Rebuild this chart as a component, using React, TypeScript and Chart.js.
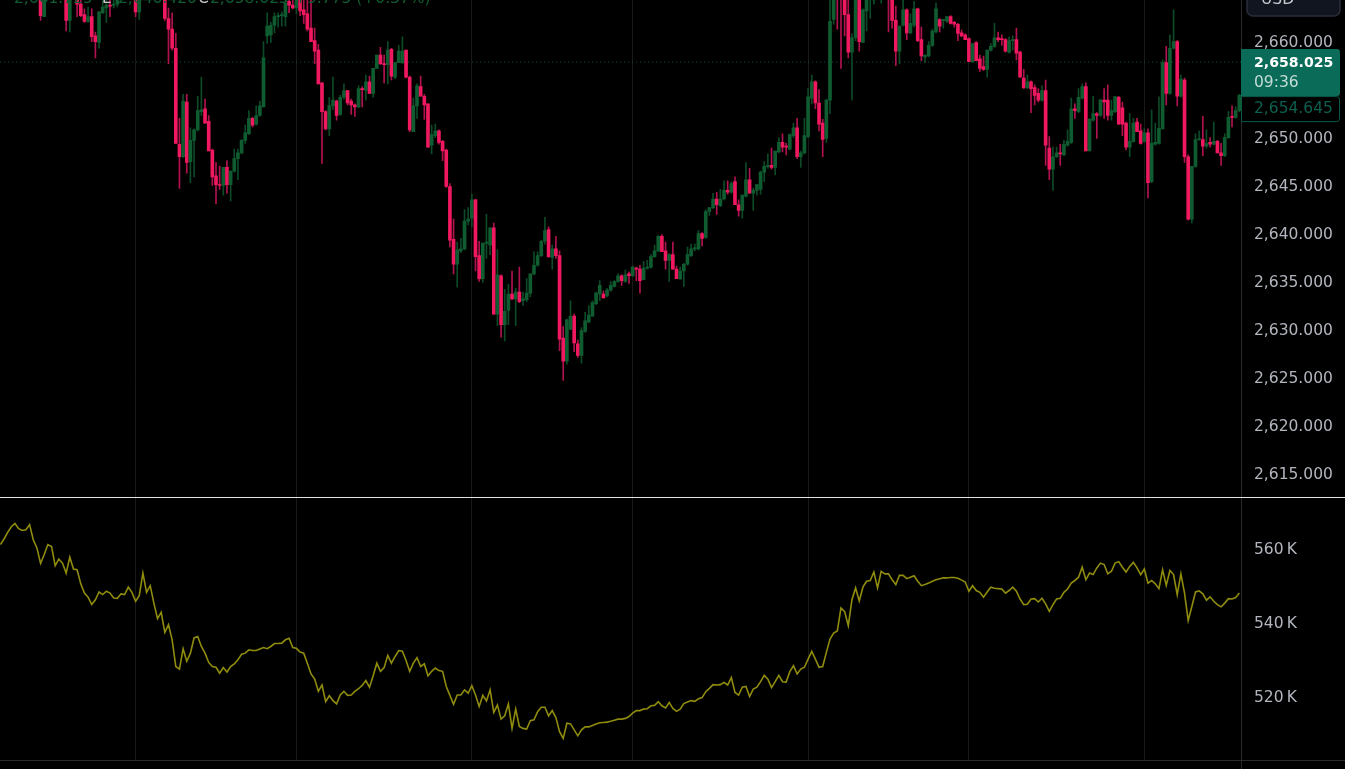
import React, { useEffect, useRef } from 'react';
import { Chart, registerables } from 'chart.js';

Chart.register(...registerables);

const opens = [
  2667.5,2666.4,2667.2,2668.1,2667.4,2666.2,2667,2667.9,2667.1,2666.3,
  2667.2,2665.2,2662.6,2665.2,2666.7,2667.4,2666,2666.8,2665,2662.2,
  2665,2665,2663.9,2662.8,2662.1,2662.6,2660.6,2659.9,2663,2663.5,
  2663.8,2663.8,2663.9,2665,2665.8,2666.4,2665.6,2665,2663.1,2665,
  2666.1,2666.9,2666.4,2667,2666.3,2665.5,2662.4,2661.3,2659.3,2649.3,
  2648,2653.7,2647.5,2649.7,2650.8,2652.7,2653,2651.7,2648.7,2646,
  2645.1,2645,2646.9,2645.1,2646.5,2647.8,2648.4,2649.7,2650.4,2652,
  2651.4,2652.3,2653.2,2660.6,2660.7,2661.7,2662.6,2662.7,2662.6,2664.2,
  2663.8,2663.5,2665,2663.3,2662.9,2661.4,2660.1,2659.1,2655.7,2652.7,
  2650.9,2653.3,2653.8,2652.4,2654.2,2654.9,2653.8,2653.4,2653.2,2655.1,
  2654.9,2655.8,2654.6,2657.2,2658.6,2657.7,2657.6,2659.2,2656.3,2657.8,
  2657.8,2659.1,2656.3,2650.6,2653.3,2655.3,2654.3,2653.5,2649.2,2650.2,
  2650.7,2649.6,2648.7,2644.9,2639.4,2636.8,2638.2,2638.4,2641.3,2641.6,
  2643.5,2637.7,2635.3,2639,2638.8,2640.6,2631.6,2635.6,2630.5,2632,
  2633.7,2633.2,2633.9,2633,2633.1,2633.8,2635.8,2636.7,2637.7,2639.2,
  2640.4,2637.5,2638.4,2637.7,2629.1,2626.7,2630,2631.4,2628.5,2627.3,
  2629.8,2630.8,2631.4,2632.7,2633.7,2633.7,2633.5,2634.1,2634.5,2635,
  2635.6,2635,2635.8,2635.6,2636.4,2636.3,2635.2,2636.4,2636.5,2637.6,
  2638.2,2639.7,2638.2,2637.2,2637.8,2636.3,2635.3,2636.1,2636.8,2637.7,
  2638.4,2638.4,2640,2639.6,2642.3,2642.7,2643.6,2642.9,2643.6,2644.5,
  2644.3,2645.4,2643,2642.4,2643.9,2645.6,2644.2,2644.5,2644.6,2646.4,
  2647,2647.1,2646.9,2648.5,2649.5,2649.1,2648.8,2650.2,2651,2648,
  2648.4,2650.1,2654.1,2655.8,2653.6,2651.5,2649.9,2653.9,2662.3,2665,
  2665.5,2665.8,2662.8,2658.9,2660.4,2665,2659.9,2663.2,2665.2,2665.5,
  2665.6,2665,2665.5,2665.5,2665.3,2662.2,2659,2661.7,2663.3,2660.9,
  2661.7,2663.4,2660.2,2658.4,2658.5,2659.6,2661,2662.3,2662.2,2662.1,
  2662.6,2662,2661.8,2660.9,2660.7,2660.3,2657.9,2659.9,2658.2,2657.4,
  2657.1,2659.1,2659.5,2660.4,2660.3,2660.2,2658.9,2660.1,2660.2,2658.9,
  2656.2,2655.2,2655.8,2655.2,2654.6,2653.9,2654.9,2648.9,2646.7,2648,
  2648.4,2648.2,2649.2,2649.5,2653,2652.7,2654.1,2655.3,2648.6,2651.8,
  2652.5,2652.3,2653.9,2653.9,2652.3,2652.7,2654.2,2653.1,2651.5,2649,
  2649.6,2651.6,2650.7,2649.6,2650.5,2645.4,2649.3,2649.4,2650.9,2657.8,
  2654.6,2659.3,2660,2654.3,2656,2648,2641.5,2647,2649.8,2649.8,
  2649.1,2649.5,2649.3,2649.6,2648.4,2648.1,2650,2652.2,2652.1,2652.8,
];

const highs = [
  2668.6,2667.9,2668.9,2669.2,2668.1,2667.5,2668.4,2668.8,2667.8,2667.6,
  2667.9,2666,2666,2667.1,2668,2668.2,2667.3,2667.2,2666,2666,
  2666.5,2665.5,2664.5,2663.4,2663.6,2663.4,2661,2663.1,2665,2664.5,
  2664.5,2664.3,2665,2666.4,2667,2667.2,2666.4,2665.5,2665.5,2666.6,
  2667.3,2667.8,2667.4,2667.9,2666.9,2666,2663.5,2663,2660.85,2652,
  2654.5,2654.5,2651,2650.9,2654.3,2656.3,2654,2652.3,2648.8,2647.4,
  2647,2646.9,2647.6,2646.5,2648.8,2648.8,2649.8,2651.3,2652.8,2652.1,
  2653.3,2653.8,2660,2663,2662,2663,2663,2663.1,2664.5,2665,
  2664.5,2665,2665.5,2665,2665,2665,2661.4,2659.7,2655.7,2652.8,
  2654.2,2656.3,2653.9,2654.4,2655.6,2654.9,2654,2653.5,2655.4,2655.3,
  2656.5,2656.4,2657.2,2658.6,2659.4,2658.6,2660,2659.3,2657.8,2659.6,
  2660.5,2659.1,2656.4,2654.1,2655.6,2656.4,2654.5,2653.5,2651.3,2651.4,
  2650.8,2649.7,2648.8,2645.2,2641.5,2639.1,2639.5,2642.5,2642.7,2644.1,
  2643.6,2639.2,2639,2642,2640.6,2641.1,2638.3,2635.7,2634.2,2634.7,
  2636.1,2634.3,2636.5,2633.9,2635.3,2635.8,2638.1,2638.1,2639.3,2641.7,
  2640.7,2638.8,2639.7,2638.2,2630.3,2631.1,2633,2631.6,2628.9,2630.2,
  2631.8,2632.5,2633,2633.9,2635.1,2634,2634.3,2635,2635.1,2635.8,
  2635.7,2636.2,2636,2636.6,2636.5,2636.7,2637.1,2637.2,2637.8,2638.8,
  2639.8,2639.9,2639.1,2637.9,2639.1,2636.6,2636.5,2636.9,2638.6,2638.9,
  2638.9,2640.3,2640.1,2642.5,2642.7,2644.2,2644.3,2644.6,2645.5,2645.5,
  2645.4,2645.9,2643.5,2644,2647.4,2646.8,2644.7,2645.1,2646.5,2647.5,
  2648.3,2648.9,2648.6,2650,2650.4,2649.4,2650.4,2651.5,2652,2648.6,
  2652,2655.1,2656.5,2655.9,2655,2651.9,2654,2665,2666,2666,
  2666,2666.5,2665,2660.8,2666,2666,2663.4,2666,2666,2666.5,
  2667,2666,2667,2666,2666,2663.7,2661.6,2665,2663.4,2662.9,
  2664.2,2663.5,2661.5,2658.6,2660,2661.3,2664,2662.4,2662.3,2662.6,
  2662.7,2662.1,2661.9,2661.2,2660.8,2660.4,2659.8,2660,2658.6,2658.5,
  2659.1,2659.8,2661.9,2661,2660.7,2660.3,2660.5,2660.6,2661.4,2659,
  2657.1,2656.5,2655.9,2655.5,2655.1,2655.4,2656,2650.1,2649,2649,
  2649.3,2649.7,2650.8,2654.1,2653.5,2655.1,2655.6,2655.7,2652,2654.3,
  2652.6,2654,2655.1,2655.5,2653.9,2654.3,2654.3,2653.7,2651.6,2652.5,
  2652,2652,2651.4,2650.9,2650.9,2652.9,2651.5,2654.25,2658.1,2659.5,
  2660.7,2663.3,2660.1,2656.5,2656.2,2648.2,2647,2650.4,2650.7,2652.2,
  2650.8,2650,2651.6,2649.7,2649.4,2650.4,2652.7,2653.3,2653.2,2654.5,
];

const lows = [
  2665.9,2665.6,2666.5,2666.8,2665.8,2665.2,2666.2,2666.6,2665.7,2665.4,
  2665.4,2662.2,2662.6,2664.9,2665.8,2665.7,2665.2,2665,2661.1,2661,
  2664.7,2662.6,2662.6,2662,2662,2660,2658.3,2659.3,2662.9,2662,
  2662.6,2663.5,2663.6,2664.7,2665,2665.2,2664.8,2662.6,2662.3,2664.7,
  2665.4,2665.9,2665.5,2665.8,2665.2,2662.2,2657.7,2659.1,2649.4,2644.7,
  2647.9,2646.3,2645.3,2645.9,2650.7,2652.3,2651.5,2648.6,2645,2643.1,
  2644.6,2644,2644.2,2643.4,2646.4,2645.6,2648.3,2649.4,2650.3,2651.1,
  2651.3,2652.2,2653.2,2659.8,2659.9,2660.9,2661.5,2661.6,2661.6,2663,
  2663.4,2662.9,2662.7,2661.9,2661.1,2660,2657.7,2655.6,2647.3,2650.8,
  2650.2,2652.9,2651.8,2652.3,2654,2653.4,2652.4,2652.2,2653.1,2653.2,
  2653.9,2654.6,2654.2,2657.2,2657.6,2655.7,2655.6,2656,2656.1,2657.8,
  2657.7,2656.2,2650.6,2650.6,2652,2654.3,2651.9,2649,2648.3,2650,
  2649.3,2647.6,2644.8,2638.6,2635.8,2634.4,2638,2638.3,2640.9,2640.7,
  2636.1,2635,2634.9,2637.4,2637.8,2631.6,2630.4,2629.2,2628.8,2630.5,
  2633.1,2630.4,2632.8,2632.5,2632.9,2633.4,2635.7,2636.6,2637.6,2638.9,
  2637.5,2636.3,2637.4,2627.8,2624.7,2626.4,2630,2627.7,2627.1,2626.5,
  2629.7,2630.7,2631.4,2632.6,2633,2633.3,2633.4,2634,2634.4,2634.9,
  2634.6,2634.9,2634.8,2635.5,2635.1,2633.8,2635.2,2636.3,2636.4,2637.5,
  2638.1,2638.1,2636.3,2635,2636.3,2635.3,2635.2,2634.5,2636.7,2637.6,
  2638.2,2638.3,2638.7,2639.5,2641.9,2642.6,2642,2642.8,2643.5,2644.1,
  2644.2,2643,2641.8,2641.6,2643.8,2644.2,2642.4,2644,2644.1,2645.4,
  2646.8,2646.7,2646.1,2648.4,2648.5,2648.2,2648.7,2650,2647.8,2646.9,
  2648.3,2650,2653.5,2653,2650.7,2648,2649.5,2652.5,2661.8,2661.3,
  2657.2,2660.6,2658.3,2653.9,2660.1,2659,2659.9,2661.1,2662.4,2663.9,
  2664.6,2664,2664.8,2661,2661.4,2657.5,2657.7,2661.6,2660.2,2660.8,
  2661.5,2660,2658,2657.8,2658.4,2659.5,2660.9,2661,2661.4,2662,
  2661.8,2661.5,2660.1,2660.5,2660.2,2657.9,2657.8,2658,2656.9,2657,
  2656.3,2659,2659.4,2660,2659.6,2658.9,2658.8,2659.1,2658.1,2656.3,
  2655.1,2655.1,2652.6,2653.4,2653.7,2653.8,2647.1,2645.6,2644.5,2647.9,
  2647.1,2648.1,2649.1,2649.4,2652,2652.6,2654,2648.6,2648.6,2651.7,
  2649.9,2652.2,2652,2651.8,2651.8,2652.6,2651.4,2650.2,2648.7,2648,
  2649.5,2650.6,2649.3,2649.5,2643.7,2645.3,2649.2,2649.3,2650.9,2653.4,
  2654.5,2659.2,2653.3,2654.2,2647.4,2641.4,2641.1,2646.9,2649.7,2648.1,
  2648.9,2649,2649.2,2648.4,2647.1,2648,2649.9,2651.1,2652,2652.7,
];

const closes = [
  2666.4,2667.2,2668.1,2667.4,2666.2,2667,2667.9,2667.1,2666.3,2667.2,
  2665.7,2662.7,2665,2666.7,2667.4,2666,2666.8,2665.3,2662.2,2665,
  2665.9,2663.9,2662.7,2662.1,2662.6,2660.5,2660,2663.1,2663.6,2663.8,
  2663.7,2663.9,2664.9,2665.8,2666.4,2665.6,2665.2,2663.1,2665,2666.1,
  2666.9,2666.4,2667,2666.3,2665.5,2662.4,2661.3,2659.3,2649.4,2648,
  2653.8,2647.4,2649.7,2650.8,2652.8,2652.9,2651.5,2648.6,2645.9,2645.1,
  2645,2646.9,2645.1,2646.5,2647.8,2648.4,2649.7,2650.5,2652,2651.3,
  2652.3,2653.3,2658.3,2661.6,2661.7,2662.6,2662.7,2662.8,2664,2663.8,
  2663.5,2664.8,2663.2,2662.8,2661.3,2660,2659,2655.6,2652.7,2650.9,
  2653.3,2653.9,2652.3,2654.2,2654.9,2653.6,2653.4,2653.2,2655.1,2655,
  2655.8,2654.6,2657.2,2658.6,2657.7,2657.6,2659.1,2656.4,2657.8,2659,
  2659,2656.3,2650.8,2653.3,2655.4,2654.3,2653.4,2649,2650.3,2650.7,
  2649.5,2648.6,2644.9,2639.3,2636.8,2638.3,2638.4,2641.3,2641.5,2643.5,
  2637.6,2635.3,2639,2639,2640.6,2631.6,2635.7,2630.5,2631.9,2633.7,
  2633.2,2633.9,2632.9,2633.2,2633.8,2635.8,2636.7,2637.7,2639.2,2640.3,
  2637.6,2638.4,2637.7,2629,2626.7,2631,2631.4,2628.6,2627.3,2629.9,
  2630.9,2631.5,2632.8,2633.8,2634.6,2633.3,2634.1,2634.6,2635,2635.6,
  2635.1,2635.7,2635.6,2636.5,2636.3,2635.1,2636.4,2636.5,2637.6,2638.2,
  2639.7,2638.1,2637.2,2637.8,2636.3,2635.3,2636.1,2636.8,2637.8,2638.4,
  2638.5,2640,2639.5,2642.3,2642.7,2643.6,2643,2643.6,2644.5,2644.3,
  2645.2,2643,2642.4,2644,2645.6,2644.2,2644.5,2645.1,2646.4,2647,
  2647.1,2646.9,2648.6,2649.5,2649,2649,2650.3,2651,2648,2648.4,
  2650.2,2654.25,2655.8,2653.6,2651.4,2649.8,2653.9,2662.1,2665,2664.5,
  2665,2662.8,2658.9,2660.4,2665,2660,2663.3,2665,2665.4,2665.6,
  2666,2665.5,2666.2,2665.2,2662.2,2659,2661.6,2663.3,2660.9,2661.9,
  2663.4,2660.1,2658.5,2658.6,2659.6,2661.1,2663.4,2661.6,2662.2,2662.6,
  2661.9,2661.8,2660.85,2660.6,2660.2,2657.9,2659.8,2658,2657.2,2657.1,
  2659.1,2659.5,2660.4,2660.2,2660.2,2659,2660.1,2660.2,2658.8,2656.3,
  2655.2,2655.8,2655.1,2654.4,2653.9,2654.9,2649.2,2646.7,2648,2648.4,
  2648.3,2649.3,2649.6,2653,2652.8,2654.2,2655.3,2648.6,2651.9,2652.5,
  2652.3,2653.9,2653.7,2652.3,2652.8,2654.25,2651.4,2651.4,2649,2649.6,
  2651.5,2650.6,2649.4,2650.5,2645.3,2649.4,2649.5,2650.95,2657.8,2654.6,
  2659.3,2660,2654.3,2656.1,2648,2641.5,2647,2649.8,2649.9,2649.1,
  2649.4,2649.3,2649.6,2648.4,2648.1,2650,2652.1,2652.1,2652.8,2654.4,
];

// lower pane, in thousands
const indicator = [
  561.1,562.6,564.4,565.9,566.8,565.4,564.9,565.1,566.5,562.4,
  560.2,556,558.4,561.1,560.6,555.4,557.2,556.1,553.4,557.7,
  554.5,554.3,550.5,548,546.9,544.9,546.2,548.3,547.6,548.5,
  548,546.7,546.6,547.8,547.6,549.6,548.2,545.8,547.3,553.4,
  548.2,550,545.3,541.1,542.8,537.4,539.5,535.4,528.2,527.5,
  533,529.6,531.8,535.9,536.3,533.6,531.8,529.3,528.2,528,
  526.4,527.9,526.7,528.2,528.9,530,531.5,531.8,532.7,532.5,
  532.5,532.9,533.3,533,533.6,534.4,534.4,534.5,535.4,535.8,
  533.3,533.1,532.1,531.8,529.1,526.2,524.8,521.5,523.2,518.7,
  520.3,519,518.1,520.5,521.5,520.4,520.5,521.5,522.2,523.1,
  524.4,522.6,525.7,529.1,526.9,527.9,531.2,529.1,530.9,532.5,
  532.3,529.8,526.9,529.1,530.6,528.2,528.9,525.7,526.9,527.8,
  527.1,526.9,522.8,520.4,518,520.5,520.5,521.9,521,523,
  520.5,517.4,520.4,518.9,521.9,515.8,517.8,514,514.9,518.1,
  511.5,516.7,512,511.5,511.3,513.6,513.8,516,517.2,517.2,
  514.9,516.3,514.4,510.6,508.8,512.9,512.7,511.1,509.5,511.1,
  511.9,511.9,512.3,512.7,513,513.1,513.2,513.4,513.7,514,
  514,514.2,514.7,515.6,516.3,516.3,516.7,516.8,517.6,517.7,
  518.7,517.6,517,518.5,516.9,516.1,516.7,518.2,518.6,519,
  518.8,519.5,519.8,521.4,522.3,523.3,523.2,523.3,523.9,523.2,
  525.2,521.2,520.5,522.6,522.8,520.1,522.1,522.6,524.1,525.8,
  524.8,522.5,524.1,525.8,524.1,524,526.8,528.4,526.2,527.5,
  528,530.2,532.3,530.2,528,528.2,532,535.6,537.2,537.8,
  544,543,539.2,546.2,549.4,545.9,549.6,551.2,551.4,553.7,
  549.4,553.9,553.2,553.2,551.6,550.3,552.8,552.8,551.9,552.3,
  552.7,551.2,550,550.3,550.7,551.2,551.6,551.9,552.1,552.1,
  552.2,552.2,552,551.5,551,548.5,550,548.7,548.2,546.9,
  548.3,549.6,549.3,549.2,549.1,548,548.7,549.6,548.5,546.4,
  544.9,545,546.4,546.5,545.6,546.6,545.1,543.1,544.9,546.4,
  546.6,548.2,549.1,550.7,551.4,552.3,555,551.6,553.4,553,
  554.8,556.1,555.7,553.2,553.9,556.1,556.5,555,553.7,555.2,
  556.3,554.8,553,554.5,550.7,551.4,550.5,549.2,554.3,550.1,
  554.1,553,547.6,553.2,548,540.6,544.4,548.3,548.6,547.8,
  546.1,547,545.8,544.9,544.3,545.3,546.5,546.4,546.8,548,
];

const priceTicks = [2615, 2620, 2625, 2630, 2635, 2640, 2645, 2650, 2660];
const indicatorTicks = [520, 540, 560];
const sessionBars = [37, 81, 129, 173, 221, 265, 313];

const lastPrice = 2657.86;
const lastPriceLabel = '2,658.025';
const countdownLabel = '09:36';
const prevPriceLabel = '2,654.645';

const upColor = '#0f5c30';
const downColor = '#f0185f';
const upWick = '#0d4a27';
const downWick = '#b01250';
const axisFont = '"DejaVu Sans", sans-serif';

const barIds = opens.map((_, i) => i);

// the right axes keep a fixed width and must not push the plot area in
const fitRightAxis = (scale: any) => {
  scale.width = 104;
  scale.paddingTop = 0;
  scale.paddingBottom = 0;
};

const furniture = {
  id: 'furniture',
  afterDraw(chart: any) {
    const { ctx, width, chartArea, scales } = chart;
    const { price, volume } = scales;
    ctx.save();

    // pane borders
    ctx.fillStyle = '#2a2a2c';
    ctx.fillRect(Math.round(chartArea.right), 0, 1, chart.height);
    ctx.fillRect(0, Math.round(chartArea.bottom) - 1, width, 1);
    ctx.fillStyle = '#e4e4e4';
    ctx.fillRect(0, Math.round(volume.top) - 1, width, 1);

    // legend, cut by the top edge of the shot
    ctx.font = `15.5px ${axisFont}`;
    ctx.textBaseline = 'alphabetic';
    ctx.textAlign = 'left';
    ctx.fillStyle = upColor;
    ctx.fillText('2,661.725', 14, 3);
    ctx.fillText('2,646.420', 118, 3);
    ctx.fillText('2,658.025', 210, 3);
    ctx.fillText('+9.775 (+0.37%)', 294, 3);
    ctx.fillStyle = '#c8c8c8';
    ctx.fillText('L', 102, 3);
    ctx.fillText('C', 198, 3);

    // USD button
    ctx.fillStyle = '#11151f';
    ctx.strokeStyle = '#2a2e39';
    ctx.lineWidth = 1.5;
    ctx.beginPath();
    ctx.roundRect(1247, -20, 93, 36, 6);
    ctx.fill();
    ctx.stroke();
    ctx.fillStyle = '#c8cad0';
    ctx.fillText('USD', 1261, 4);

    // last price label
    const y = price.getPixelForValue(lastPrice);
    ctx.fillStyle = '#0a6b58';
    ctx.beginPath();
    ctx.roundRect(chartArea.right, y - 13, 99, 47, [0, 3, 3, 0]);
    ctx.fill();
    ctx.textBaseline = 'middle';
    ctx.fillStyle = '#ffffff';
    ctx.font = `bold 14.1px ${axisFont}`;
    ctx.fillText(lastPriceLabel, 1254, y + 1);
    ctx.font = `15.5px ${axisFont}`;
    ctx.fillStyle = '#c4dcd6';
    ctx.fillText(countdownLabel, 1254, y + 21);

    // previous close label
    ctx.fillStyle = '#000000';
    ctx.strokeStyle = '#0a5a4a';
    ctx.lineWidth = 1;
    ctx.beginPath();
    ctx.roundRect(chartArea.right + 0.5, y + 34.5, 98, 25, [0, 3, 3, 0]);
    ctx.fill();
    ctx.stroke();
    ctx.fillStyle = '#0d5f4f';
    ctx.fillText(prevPriceLabel, 1254, y + 47);

    ctx.restore();
  },
};

export default function App() {
  const canvasRef = useRef<HTMLCanvasElement>(null);

  useEffect(() => {
    if (!canvasRef.current) return;
    document.body.style.margin = '0';
    document.body.style.background = '#000';

    const chart = new Chart(canvasRef.current, {
      type: 'bar',
      data: {
        datasets: [
          {
            type: 'line',
            data: [{ x: -0.1, y: lastPrice }, { x: 339.45, y: lastPrice }],
            yAxisID: 'price',
            borderColor: '#0e4f3f',
            borderWidth: 1,
            borderDash: [1, 3],
            pointRadius: 0,
            order: 3,
          },
          {
            data: barIds.map((i) => ({ x: i, y: [lows[i], highs[i]] })),
            yAxisID: 'price',
            backgroundColor: barIds.map((i) => (closes[i] >= opens[i] ? upWick : downWick)),
            barThickness: 1,
            grouped: false,
            order: 2,
          },
          {
            data: barIds.map((i) => ({ x: i, y: [opens[i], closes[i]] })),
            yAxisID: 'price',
            backgroundColor: barIds.map((i) => (closes[i] >= opens[i] ? upColor : downColor)),
            barThickness: 3,
            minBarLength: 1,
            grouped: false,
            order: 1,
          },
          {
            type: 'line',
            data: barIds.map((i) => ({ x: i, y: indicator[i] })),
            yAxisID: 'volume',
            borderColor: '#8f8c0e',
            borderWidth: 1.6,
            pointRadius: 0,
            tension: 0,
            order: 0,
          },
        ],
      } as any,
      options: {
        responsive: false,
        animation: false,
        devicePixelRatio: 1,
        layout: { autoPadding: false, padding: { bottom: 8 } },
        plugins: { legend: { display: false }, tooltip: { enabled: false } },
        scales: {
          x: {
            type: 'linear',
            offset: false,
            min: -0.1,
            max: 339.45,
            afterBuildTicks: (scale: any) => {
              scale.ticks = sessionBars.map((value) => ({ value }));
            },
            ticks: { display: false },
            grid: { offset: false, color: '#191919', drawTicks: false },
            border: { display: false },
          },
          price: {
            type: 'linear',
            position: 'right',
            stack: 'panes',
            stackWeight: 497.5,
            min: 2612.5,
            max: 2664.33,
            afterFit: fitRightAxis,
            afterBuildTicks: (scale: any) => {
              scale.ticks = priceTicks.map((value) => ({ value }));
            },
            ticks: {
              autoSkip: false,
              padding: 0,
              labelOffset: 1,
              color: '#b2b5be',
              font: { family: axisFont, size: 15.5 },
              callback: (v: any) => Number(v).toLocaleString('en-US', { minimumFractionDigits: 3 }),
            },
            grid: { display: false, drawTicks: true, tickLength: 13 },
            border: { display: false },
          },
          volume: {
            type: 'linear',
            position: 'right',
            stack: 'panes',
            stackWeight: 263.5,
            min: 502.7,
            max: 573.8,
            afterFit: fitRightAxis,
            afterBuildTicks: (scale: any) => {
              scale.ticks = indicatorTicks.map((value) => ({ value }));
            },
            ticks: {
              autoSkip: false,
              padding: 0,
              labelOffset: 1.5,
              color: '#b2b5be',
              font: { family: axisFont, size: 15.5 },
              callback: (v: any) => `${v}\u2009K`,
            },
            grid: { display: false, drawTicks: true, tickLength: 13 },
            border: { display: false },
          },
        },
      } as any,
      plugins: [furniture],
    });

    return () => chart.destroy();
  }, []);

  return (
    <div style={{ width: 1345, height: 769, background: '#000' }}>
      <canvas ref={canvasRef} width={1345} height={769} style={{ display: 'block' }} />
    </div>
  );
}
